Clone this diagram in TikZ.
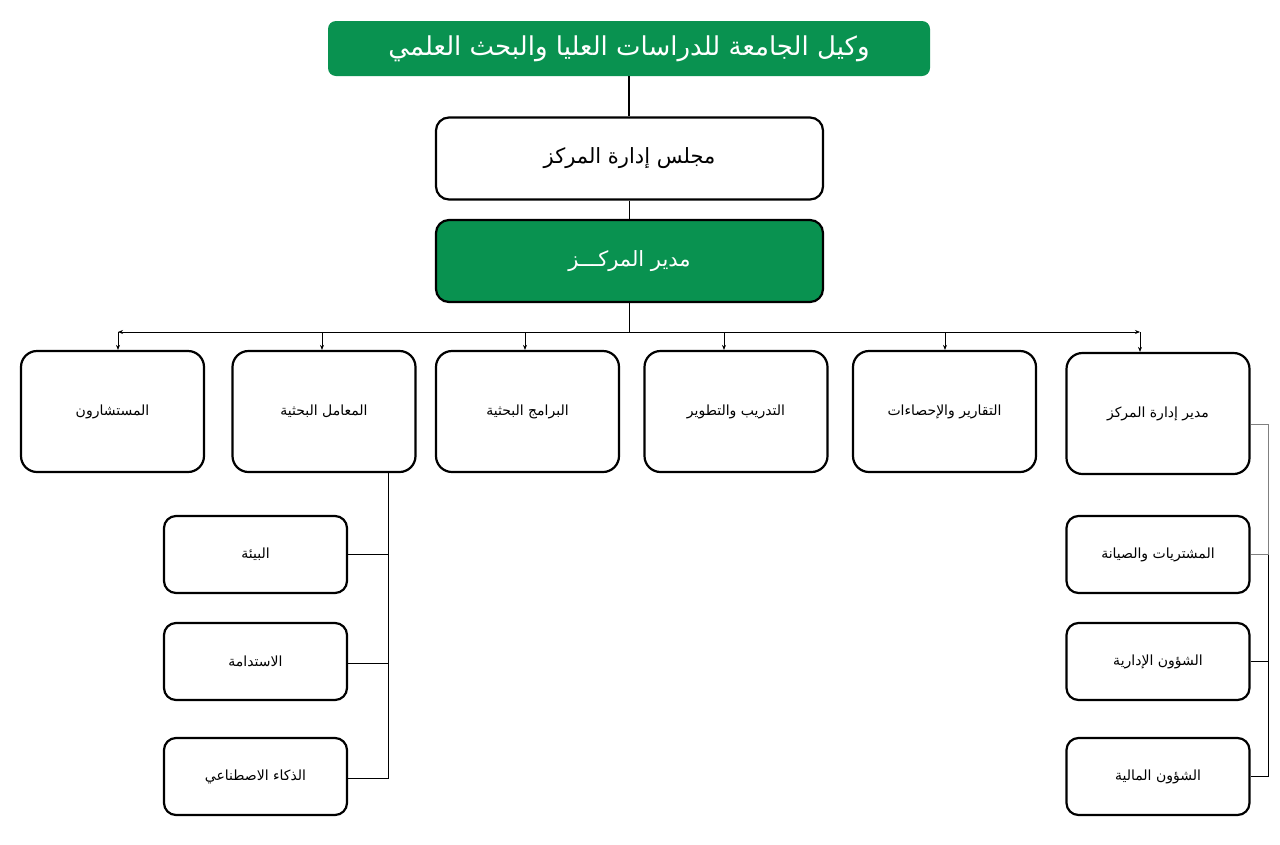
\documentclass[tikz,border=0pt]{standalone}
\usepackage{fontspec}
\usetikzlibrary{arrows.meta}
\TeXXeTstate=1
\newfontfamily\arabicfont[Script=Arabic]{DejaVu Sans}
\newcommand{\artext}[1]{{\arabicfont\beginR #1\endR}}
\definecolor{orggreen}{RGB}{9,146,80}
\tikzset{
  topbox/.style={fill=orggreen, rounded corners=8pt, minimum width=602pt, minimum height=55pt, text=white, font=\fontsize{26}{30}\selectfont},
  bigbox/.style={draw=black, line width=2.2pt, rounded corners=13pt, minimum width=387pt, minimum height=82pt, font=\fontsize{21}{25}\selectfont},
  rowbox/.style={draw=black, line width=2.2pt, fill=white, rounded corners=16pt, minimum width=183pt, minimum height=121pt, font=\fontsize{14}{17}\selectfont},
  subbox/.style={draw=black, line width=2.2pt, fill=white, rounded corners=12pt, minimum width=183pt, minimum height=77pt, font=\fontsize{14}{17}\selectfont},
  conn/.style={line width=0.9pt},
  arr/.style={line width=0.8pt, -{Stealth[length=5pt,width=4pt]}},
}
\begin{document}
\begin{tikzpicture}[x=1pt,y=-1pt]
\useasboundingbox (0,0) rectangle (1280,844);
\fill[white] (0,0) rectangle (1280,844);

% top levels
\node[topbox] (vp) at (629,48.5) {\artext{وكيل الجامعة للدراسات العليا والبحث العلمي}};
\node[bigbox, fill=white] (board) at (629.5,158.5) {\artext{مجلس إدارة المركز}};
\node[bigbox, fill=orggreen, text=white] (dir) at (629.5,261) {\artext{مدير المركـــز}};

% row
\node[rowbox] (b1) at (112.5,411.5) {\artext{المستشارون}};
\node[rowbox] (b2) at (324,411.5) {\artext{المعامل البحثية}};
\node[rowbox] (b3) at (527.5,411.5) {\artext{البرامج البحثية}};
\node[rowbox] (b4) at (736,411.5) {\artext{التدريب والتطوير}};
\node[rowbox] (b5) at (944.5,411.5) {\artext{التقارير والإحصاءات}};
\node[rowbox] (b6) at (1158,413.5) {\artext{مدير إدارة المركز}};

% left sub boxes
\node[subbox] (s1) at (255.5,554.5) {\artext{البيئة}};
\node[subbox] (s2) at (255.5,661.5) {\artext{الاستدامة}};
\node[subbox] (s3) at (255.5,776.5) {\artext{الذكاء الاصطناعي}};

% right sub boxes
\node[subbox] (r1) at (1158,554.5) {\artext{المشتريات والصيانة}};
\node[subbox] (r2) at (1158,661.5) {\artext{الشؤون الإدارية}};
\node[subbox] (r3) at (1158,776.5) {\artext{الشؤون المالية}};

% connectors top
\draw[line width=2.6pt] (vp.south) -- (vp.south |- board.north);
\draw[line width=1.2pt] (board.south) -- (dir.north);

\coordinate (busL) at (118,332);
\coordinate (busR) at (1140,332);
\coordinate (busM) at (dir.south |- busL);
\draw[conn] (dir.south) -- (busM);
\draw[arr] (busM) -- (busL);
\draw[arr] (busM) -- (busR);
\draw[arr] (busL) -- (b1.north -| busL);
\draw[arr] (busR) -- (b6.north -| busR);
\draw[arr] ([xshift=-2pt]b2.north |- busL) -- ([xshift=-2pt]b2.north);
\draw[arr] ([xshift=-2.5pt]b3.north |- busL) -- ([xshift=-2.5pt]b3.north);
\draw[arr] ([xshift=-12pt]b4.north |- busL) -- ([xshift=-12pt]b4.north);
\draw[arr] ([xshift=0.5pt]b5.north |- busL) -- ([xshift=0.5pt]b5.north);

% left sub connectors
\coordinate (lv) at (388,778);
\draw[conn] (b2.south -| lv) -- (lv) -- (s3.east |- lv);
\draw[conn] (s1.east) -- (s1.east -| lv);
\draw[conn] ([yshift=-1.5pt]s2.east) -- ([yshift=-1.5pt]s2.east -| lv);

% right sub connectors
\coordinate (rv) at (1268,776);
\draw[line width=0.6pt, gray] ([yshift=-11pt]b6.east) -| (r1.east -| rv) -- (r1.east);
\draw[conn] (r1.east -| rv) -- (rv) -- (r3.east |- rv);
\draw[conn] (r2.east) -- (r2.east -| rv);
\end{tikzpicture}
\end{document}
